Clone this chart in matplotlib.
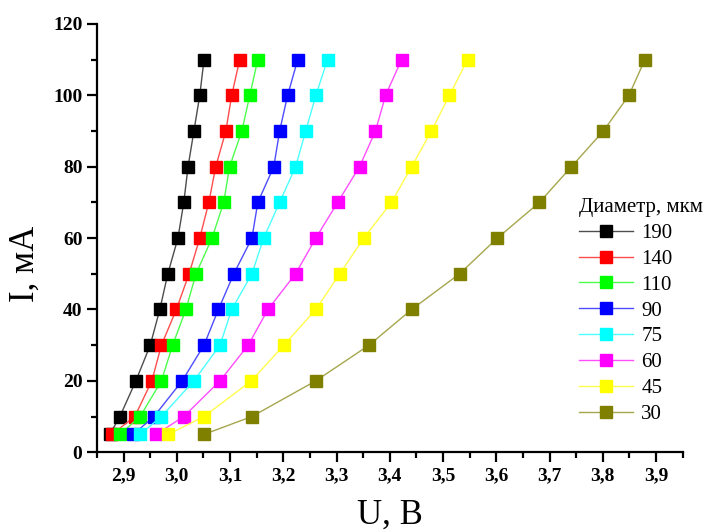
import matplotlib.pyplot as plt
import matplotlib.colors as mcolors
from matplotlib.ticker import MultipleLocator, FuncFormatter
import numpy as np

plt.rcParams['font.family'] = ['Liberation Serif', 'DejaVu Serif']

# -----------------------------
# DATA
# -----------------------------
current = [5, 10, 20, 30, 40, 50, 60, 70, 80, 90, 100, 110]

diameters = ["190", "140", "110", "90", "75", "60", "45", "30"]
colors = ["#000000", "#ff0000", "#00ff00", "#0000ff",
          "#00ffff", "#ff00ff", "#ffff00", "#808000"]

u_190 = [2.874, 2.893, 2.923, 2.950, 2.968, 2.983, 3.002, 3.013, 3.021, 3.032, 3.043, 3.051]
u_140 = [2.878, 2.921, 2.953, 2.971, 2.999, 3.023, 3.043, 3.060, 3.073, 3.092, 3.103, 3.118]
u_110 = [2.893, 2.931, 2.971, 2.992, 3.017, 3.036, 3.066, 3.088, 3.099, 3.122, 3.137, 3.152]
u_90 = [2.918, 2.957, 3.010, 3.051, 3.078, 3.107, 3.141, 3.152, 3.182, 3.193, 3.208, 3.227]
u_75 = [2.931, 2.971, 3.032, 3.081, 3.103, 3.141, 3.163, 3.193, 3.223, 3.242, 3.261, 3.283]
u_60 = [2.961, 3.013, 3.081, 3.134, 3.171, 3.223, 3.261, 3.302, 3.343, 3.373, 3.392, 3.422]
u_45 = [2.984, 3.051, 3.140, 3.201, 3.261, 3.306, 3.351, 3.403, 3.441, 3.478, 3.512, 3.546]
u_30 = [3.051, 3.141, 3.261, 3.361, 3.441, 3.531, 3.602, 3.681, 3.741, 3.801, 3.849, 3.879]

voltages = [u_190, u_140, u_110, u_90, u_75, u_60, u_45, u_30]

# -----------------------------
# PLOT
# -----------------------------
fig = plt.figure(figsize=(7.06, 5.32), dpi=100)
ax = fig.add_axes([0.1374, 0.150, 0.8296, 0.805])

for u, c, lab in zip(voltages, colors, diameters):
    rgb = np.array(mcolors.to_rgb(c))
    line_col = rgb + (1 - rgb) * 0.3  # lines look a bit lighter than markers
    ax.plot(u, current, color=line_col, lw=1.0, marker='s', ms=8,
            markerfacecolor=c, markeredgecolor=c, label=lab)

ax.set_xlim(2.85, 3.95)
ax.set_ylim(0, 120)
ax.xaxis.set_major_locator(MultipleLocator(0.1))
ax.xaxis.set_minor_locator(MultipleLocator(0.05))
ax.yaxis.set_major_locator(MultipleLocator(20))
ax.yaxis.set_minor_locator(MultipleLocator(10))
ax.xaxis.set_major_formatter(FuncFormatter(lambda v, p: f"{v:.1f}".replace('.', ',')))

for s in ['top', 'right']:
    ax.spines[s].set_visible(False)
for s in ['left', 'bottom']:
    ax.spines[s].set_linewidth(1.6)

ax.tick_params(which='major', direction='out', length=7, width=1.6, labelsize=14)
ax.tick_params(which='minor', direction='out', length=4, width=1.6)
for t in ax.get_xticklabels() + ax.get_yticklabels():
    t.set_fontweight('bold')

ax.set_xlabel("U, В", fontsize=25)
ax.set_ylabel("I, мА", fontsize=25)
ax.xaxis.set_label_coords(0.5, -0.108)
ax.yaxis.set_label_coords(-0.094, 0.44)

leg = fig.legend(loc='upper left', bbox_to_anchor=(0.805, 0.647), frameon=False,
                 title="Диаметр, мкм", fontsize=15, title_fontsize=15,
                 handlelength=2.6, handletextpad=0.4, labelspacing=0.3,
                 borderpad=0, alignment='left')

plt.savefig("out.png", dpi=100)
